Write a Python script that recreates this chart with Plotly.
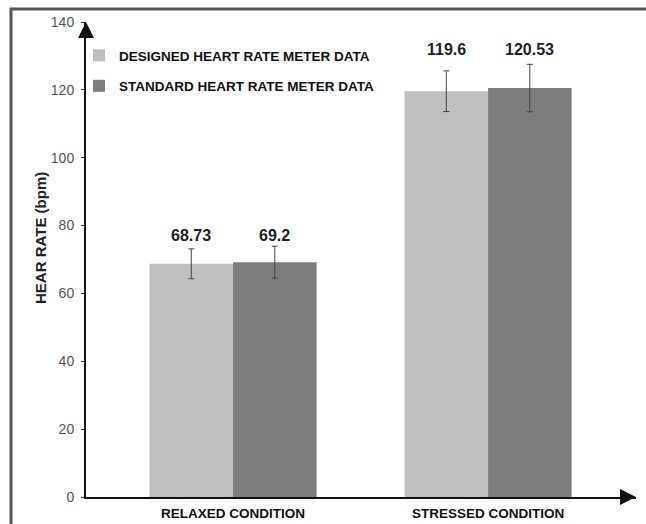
import plotly.graph_objects as go

categories = ["RELAXED CONDITION", "STRESSED CONDITION"]
designed_values = [68.73, 119.6]
standard_values = [69.2, 120.53]
designed_err = [4.4, 6.0]
standard_err = [4.7, 7.0]
series_names = ["DESIGNED HEART RATE METER DATA", "STANDARD HEART RATE METER DATA"]
y_ticks = [0, 20, 40, 60, 80, 100, 120, 140]

LIGHT = "#bfbfbf"
DARK = "#7d7d7d"
SANS = "Liberation Sans, Arial, sans-serif"

W, H = 646, 524
ML, MR, MT, MB = 86, 10, 22, 27
PW, PH = W - ML - MR, H - MT - MB

def px_x(px):
    return (px - ML) / PW

def px_y(py):
    return (H - MB - py) / PH

fig = go.Figure()
fig.add_trace(go.Bar(
    x=categories, y=designed_values, name=f"<b>{series_names[0]}</b>",
    marker=dict(color=LIGHT, line=dict(width=0)),
    error_y=dict(type="data", array=designed_err, visible=True,
                 color="#444444", thickness=1, width=3),
    legendgroup="a",
))
fig.add_trace(go.Bar(
    x=categories, y=standard_values, name=f"<b>{series_names[1]}</b>",
    marker=dict(color=DARK, line=dict(width=0)),
    error_y=dict(type="data", array=standard_err, visible=True,
                 color="#444444", thickness=1, width=3),
    legendgroup="b",
))

bargap = 0.345
half = (1 - bargap) / 4
annotations = []
for i in range(len(categories)):
    top = max(designed_values[i] + designed_err[i], standard_values[i] + standard_err[i])
    ly = top * 1.024
    for off, v in ((-half, designed_values[i]), (half, standard_values[i])):
        annotations.append(dict(
            x=i + off, y=ly, xref="x", yref="y", text=f"<b>{v:g}</b>",
            showarrow=False, yanchor="bottom", xanchor="center", yshift=-6,
            font=dict(family=SANS, size=16, color="#222222"),
        ))

# y-axis title
annotations.append(dict(
    x=px_x(41), y=px_y(238), xref="paper", yref="paper",
    text="<b>HEAR RATE (bpm)</b>", textangle=-90, showarrow=False,
    xanchor="center", yanchor="middle",
    font=dict(family=SANS, size=15, color="#222222"),
))
# axis arrowheads
annotations.append(dict(
    x=0, y=1, xref="paper", yref="paper", ax=0, ay=16, axref="pixel", ayref="pixel",
    text="", showarrow=True, arrowhead=2, arrowsize=1.6, arrowwidth=2, arrowcolor="#111111",
))
annotations.append(dict(
    x=1, y=0, xref="paper", yref="paper", ax=-16, ay=0, axref="pixel", ayref="pixel",
    text="", showarrow=True, arrowhead=2, arrowsize=1.6, arrowwidth=2, arrowcolor="#111111",
))

shapes = [
    dict(type="path", xref="paper", yref="paper",
         path=f"M {px_x(11)} {px_y(530)} L {px_x(11)} {px_y(9)} L {px_x(650)} {px_y(9)}",
         line=dict(color="#555555", width=3)),
]

fig.update_layout(
    width=W, height=H,
    margin=dict(l=ML, r=MR, t=MT, b=MB, pad=0, autoexpand=False),
    paper_bgcolor="white", plot_bgcolor="white",
    barmode="group", bargap=bargap, bargroupgap=0,
    showlegend=True,
    legend=dict(
        x=px_x(79), y=px_y(40), xanchor="left", yanchor="top",
        bgcolor="rgba(0,0,0,0)", font=dict(family=SANS, size=13.5, color="#111111"),
        tracegroupgap=10, traceorder="grouped", itemwidth=30,
    ),
    xaxis=dict(
        type="category", range=[-0.5765, 1.580], showline=True, linecolor="#111111",
        linewidth=2, ticks="", showgrid=False, zeroline=False, automargin=False,
        tickfont=dict(family=SANS, size=13.5, color="#111111"),
        tickprefix="<b>", ticksuffix="</b>", ticklabelstandoff=3,
    ),
    yaxis=dict(
        range=[0, 140], tickvals=y_ticks, showline=True, linecolor="#111111",
        linewidth=2, ticks="outside", ticklen=3, tickcolor="#333333",
        showgrid=False, zeroline=False, automargin=False,
        tickfont=dict(family=SANS, size=14, color="#555555"),
        ticklabelstandoff=4,
    ),
    annotations=annotations,
    shapes=shapes,
)

fig.write_html("out.html", config={"displayModeBar": False},
               post_script="document.body.style.margin='0';")
